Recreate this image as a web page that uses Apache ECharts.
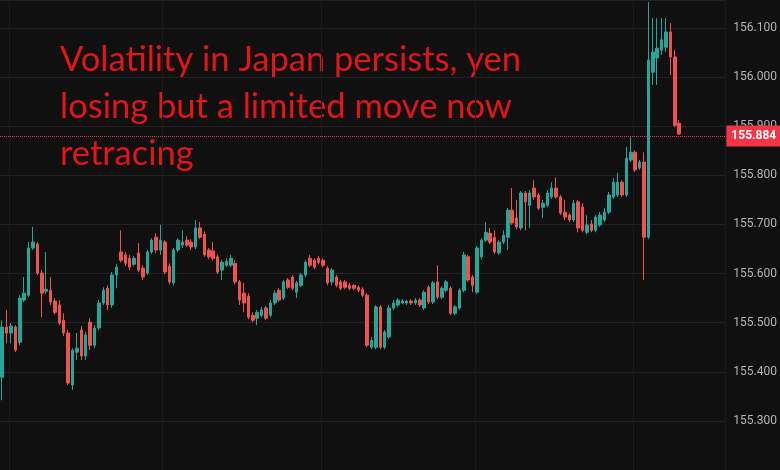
<!DOCTYPE html>
<html>
<head>
<meta charset="utf-8">
<title>USD/JPY</title>
<script src="https://cdn.jsdelivr.net/npm/echarts@6/dist/echarts.min.js"></script>
<style>
  html, body { margin: 0; padding: 0; background: #101010; }
  #chart { width: 780px; height: 470px; }
</style>
</head>
<body>
<div id="chart"></div>
<script>
// candle data, oldest first
const opens = [
  155.389, 155.491, 155.479, 155.491, 155.460, 155.546, 155.556, 155.652, 155.660, 155.601,
  155.564, 155.566, 155.544, 155.536, 155.505, 155.479, 155.373, 155.440, 155.485, 155.432,
  155.501, 155.454, 155.489, 155.540, 155.570, 155.536, 155.597, 155.644, 155.638, 155.631,
  155.619, 155.642, 155.611, 155.601, 155.644, 155.674, 155.648, 155.664, 155.615, 155.581,
  155.648, 155.658, 155.668, 155.664, 155.654, 155.693, 155.680, 155.648, 155.646, 155.634,
  155.607, 155.617, 155.617, 155.621, 155.583, 155.560, 155.554, 155.515, 155.509, 155.515,
  155.530, 155.515, 155.540, 155.566, 155.550, 155.587, 155.593, 155.562, 155.576, 155.597,
  155.631, 155.627, 155.631, 155.627, 155.611, 155.583, 155.593, 155.583, 155.583, 155.576,
  155.576, 155.572, 155.568, 155.556, 155.450, 155.450, 155.532, 155.450, 155.471, 155.530,
  155.536, 155.540, 155.540, 155.544, 155.540, 155.546, 155.530, 155.572, 155.542, 155.583,
  155.552, 155.566, 155.570, 155.519, 155.530, 155.566, 155.634, 155.593, 155.562, 155.634,
  155.668, 155.682, 155.674, 155.642, 155.664, 155.674, 155.729, 155.713, 155.693, 155.764,
  155.739, 155.774, 155.760, 155.735, 155.739, 155.756, 155.774, 155.756, 155.725, 155.719,
  155.709, 155.746, 155.735, 155.684, 155.701, 155.688, 155.699, 155.709, 155.725, 155.756,
  155.760, 155.786, 155.760, 155.831, 155.847, 155.815, 155.827, 155.674, 156.010, 156.039,
  156.055, 156.061, 156.092, 156.041, 155.906
];
const closes = [
  155.491, 155.479, 155.493, 155.444, 155.550, 155.560, 155.652, 155.664, 155.601, 155.560,
  155.568, 155.542, 155.521, 155.499, 155.479, 155.377, 155.444, 155.448, 155.432, 155.475,
  155.454, 155.489, 155.540, 155.566, 155.536, 155.597, 155.613, 155.627, 155.621, 155.613,
  155.631, 155.607, 155.593, 155.644, 155.668, 155.648, 155.668, 155.603, 155.583, 155.648,
  155.668, 155.664, 155.658, 155.654, 155.693, 155.674, 155.638, 155.634, 155.631, 155.603,
  155.623, 155.625, 155.631, 155.583, 155.546, 155.540, 155.511, 155.505, 155.521, 155.526,
  155.509, 155.540, 155.560, 155.546, 155.583, 155.572, 155.570, 155.581, 155.597, 155.623,
  155.617, 155.613, 155.623, 155.617, 155.581, 155.607, 155.576, 155.570, 155.572, 155.570,
  155.570, 155.566, 155.556, 155.454, 155.464, 155.532, 155.450, 155.481, 155.530, 155.540,
  155.546, 155.544, 155.544, 155.540, 155.546, 155.536, 155.562, 155.542, 155.581, 155.552,
  155.570, 155.583, 155.519, 155.532, 155.566, 155.638, 155.587, 155.576, 155.652, 155.668,
  155.684, 155.664, 155.644, 155.664, 155.678, 155.729, 155.703, 155.695, 155.764, 155.746,
  155.764, 155.756, 155.733, 155.743, 155.764, 155.774, 155.756, 155.723, 155.715, 155.709,
  155.743, 155.693, 155.688, 155.699, 155.688, 155.715, 155.719, 155.725, 155.760, 155.786,
  155.786, 155.760, 155.835, 155.847, 155.811, 155.827, 155.674, 156.035, 156.051, 156.059,
  156.076, 156.092, 156.041, 155.902, 155.884
];
const lows = [
  155.342, 155.458, 155.458, 155.440, 155.454, 155.542, 155.552, 155.648, 155.597, 155.511,
  155.558, 155.536, 155.517, 155.495, 155.473, 155.373, 155.363, 155.424, 155.424, 155.424,
  155.444, 155.448, 155.485, 155.536, 155.526, 155.530, 155.570, 155.623, 155.615, 155.607,
  155.615, 155.603, 155.587, 155.597, 155.640, 155.642, 155.638, 155.599, 155.578, 155.576,
  155.644, 155.652, 155.654, 155.648, 155.650, 155.670, 155.634, 155.629, 155.627, 155.599,
  155.587, 155.613, 155.613, 155.578, 155.536, 155.521, 155.507, 155.501, 155.495, 155.511,
  155.505, 155.511, 155.536, 155.542, 155.546, 155.568, 155.566, 155.550, 155.572, 155.593,
  155.613, 155.609, 155.619, 155.613, 155.576, 155.576, 155.572, 155.566, 155.568, 155.566,
  155.566, 155.562, 155.552, 155.450, 155.446, 155.446, 155.446, 155.446, 155.467, 155.526,
  155.532, 155.538, 155.536, 155.536, 155.536, 155.532, 155.526, 155.538, 155.538, 155.548,
  155.548, 155.562, 155.515, 155.515, 155.526, 155.562, 155.583, 155.562, 155.558, 155.629,
  155.664, 155.660, 155.640, 155.638, 155.660, 155.648, 155.699, 155.690, 155.688, 155.688,
  155.693, 155.750, 155.729, 155.713, 155.735, 155.752, 155.752, 155.719, 155.709, 155.705,
  155.705, 155.684, 155.684, 155.680, 155.684, 155.684, 155.695, 155.705, 155.721, 155.752,
  155.756, 155.756, 155.756, 155.827, 155.807, 155.811, 155.587, 155.670, 155.984, 155.984,
  156.045, 156.051, 156.004, 155.898, 155.882
];
const highs = [
  155.505, 155.526, 155.499, 155.495, 155.556, 155.593, 155.664, 155.695, 155.664, 155.607,
  155.644, 155.593, 155.550, 155.546, 155.519, 155.485, 155.448, 155.479, 155.493, 155.481,
  155.509, 155.495, 155.546, 155.572, 155.576, 155.603, 155.619, 155.688, 155.644, 155.638,
  155.636, 155.662, 155.617, 155.648, 155.672, 155.682, 155.699, 155.668, 155.621, 155.652,
  155.672, 155.688, 155.676, 155.670, 155.709, 155.705, 155.686, 155.652, 155.664, 155.638,
  155.627, 155.631, 155.638, 155.627, 155.587, 155.581, 155.560, 155.521, 155.526, 155.532,
  155.534, 155.546, 155.566, 155.570, 155.587, 155.591, 155.597, 155.585, 155.601, 155.627,
  155.638, 155.631, 155.636, 155.631, 155.615, 155.611, 155.597, 155.587, 155.587, 155.581,
  155.578, 155.576, 155.572, 155.560, 155.471, 155.536, 155.536, 155.485, 155.536, 155.546,
  155.550, 155.548, 155.546, 155.548, 155.550, 155.550, 155.566, 155.576, 155.585, 155.617,
  155.574, 155.587, 155.574, 155.536, 155.570, 155.644, 155.638, 155.597, 155.656, 155.672,
  155.705, 155.693, 155.688, 155.668, 155.688, 155.733, 155.774, 155.750, 155.768, 155.768,
  155.770, 155.790, 155.764, 155.750, 155.770, 155.786, 155.796, 155.760, 155.750, 155.723,
  155.750, 155.750, 155.743, 155.719, 155.709, 155.719, 155.725, 155.733, 155.766, 155.794,
  155.805, 155.790, 155.858, 155.878, 155.851, 155.831, 155.847, 156.153, 156.120, 156.120,
  156.120, 156.120, 156.110, 156.055, 155.913
];
const slotCount = 165; // candles plus empty space on the right
const categories = Array.from({ length: slotCount }, (_, i) => String(i));
const lastPrice = closes[closes.length - 1];
const note = "Volatility in Japan persists, yen\nlosing but a limited move now\nretracing";

const upColor = "#26a69a";
const downColor = "#ef5350";
const vGrid = [2, 37, 73, 108, 144];

const candles = opens.map((o, i) => [o, closes[i], lows[i], highs[i]]);

const chart = echarts.init(document.getElementById("chart"), null, { renderer: "canvas" });
chart.setOption({
  backgroundColor: "#101010",
  animation: false,
  grid: { left: 0, right: 53, top: 0, bottom: 0 },
  xAxis: {
    type: "category",
    data: categories,
    boundaryGap: true,
    axisLine: { show: false },
    axisTick: { show: false },
    axisLabel: { show: false },
    splitLine: {
      show: true,
      interval: (idx) => vGrid.includes(idx),
      lineStyle: { color: "#1b1b1b", width: 1 }
    }
  },
  yAxis: {
    type: "value",
    position: "right",
    min: 155.2,
    max: 156.157,
    interval: 0.1,
    scale: true,
    axisLine: { show: false },
    axisTick: { show: false },
    axisLabel: {
      color: "#b4b4b4",
      fontSize: 12,
      fontFamily: "Roboto",
      margin: 8,
      showMinLabel: false,
      showMaxLabel: false,
      formatter: (v) => v.toFixed(3)
    },
    splitLine: { lineStyle: { color: "#222222", width: 1 } }
  },
  graphic: [
    {
      type: "text",
      left: 60,
      top: 36,
      silent: true,
      style: {
        text: note,
        fill: "#e3141a",
        fontSize: 34.5,
        fontFamily: "Lato",
        lineHeight: 47
      }
    }
  ],
  series: [
    {
      type: "candlestick",
      data: candles,
      barWidth: 3,
      itemStyle: {
        color: upColor,
        color0: downColor,
        borderColor: upColor,
        borderColor0: downColor,
        borderColorDoji: upColor,
        borderWidth: 1
      },
      markLine: {
        silent: true,
        symbol: ["none", "none"],
        lineStyle: { color: "#f23645", type: "dotted", width: 1 },
        label: {
          position: "end",
          distance: 1,
          formatter: () => lastPrice.toFixed(3),
          color: "#ffffff",
          backgroundColor: "#f23645",
          padding: [5, 5, 4, 5],
          fontSize: 12,
          fontFamily: "Roboto",
          fontWeight: "bold"
        },
        data: [{ yAxis: lastPrice }]
      }
    }
  ]
});
</script>
</body>
</html>
